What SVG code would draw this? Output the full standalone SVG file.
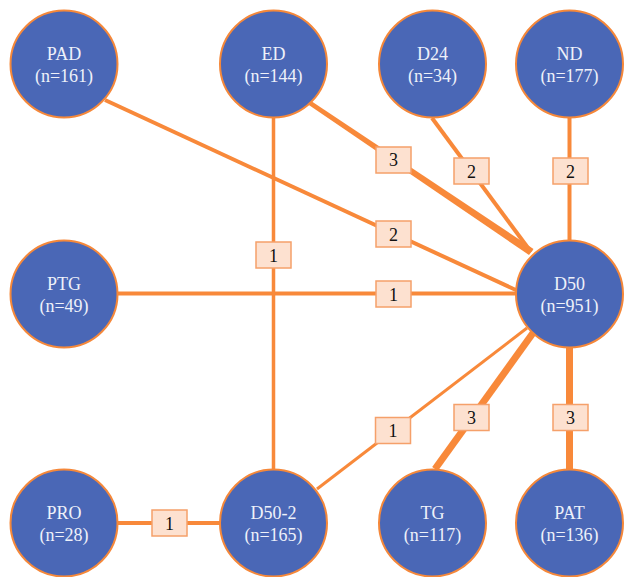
<svg xmlns="http://www.w3.org/2000/svg" width="624" height="577" viewBox="0 0 624 577">
<style>
.n circle{fill:#4A67B6;stroke:#F5883A;stroke-width:2}
.n text{font-family:"Liberation Serif","Times New Roman",serif;font-size:18px;fill:#EEF1FA;text-anchor:middle}
.e line{stroke:#F8893A;fill:none}
.e polygon{fill:#F8893A}
.lb rect{fill:#FDE1D0;stroke:#F5A06A;stroke-width:1.5}
.lb text{font-family:"Liberation Serif","Times New Roman",serif;font-size:18px;fill:#111;text-anchor:middle}
</style>
<rect width="624" height="577" fill="#fff"/>
<g id="connectors" class="e">
<line x1="105" y1="100" x2="518" y2="291" stroke-width="4"/>
<polygon points="308.5,104.7 311.5,101.3 533.5,249 529,255"/>
<line x1="432" y1="118" x2="531" y2="252" stroke-width="4"/>
<line x1="569.5" y1="118" x2="569.5" y2="241" stroke-width="4"/>
<line x1="118" y1="293.5" x2="516" y2="293.5" stroke-width="4"/>
<line x1="273.5" y1="118" x2="273.5" y2="469" stroke-width="3.5"/>
<line x1="527" y1="328" x2="317" y2="489" stroke-width="3"/>
<line x1="533" y1="333" x2="435" y2="469" stroke-width="7"/>
<line x1="569.5" y1="347" x2="569.5" y2="469" stroke-width="7"/>
<line x1="117" y1="523" x2="220" y2="523" stroke-width="4"/>
</g>
<g id="labels" class="lb">
<g id="l-ed-d50"><rect x="376" y="147" width="35" height="26"/><text x="393.5" y="166">3</text></g>
<g id="l-d24-d50"><rect x="454" y="158" width="35" height="26"/><text x="471.5" y="177.5">2</text></g>
<g id="l-nd-d50"><rect x="553" y="158" width="35" height="26"/><text x="570.5" y="177.5">2</text></g>
<g id="l-pad-d50"><rect x="376" y="221" width="35" height="26"/><text x="393.5" y="240.5">2</text></g>
<g id="l-ed-d502"><rect x="256" y="242" width="35" height="26"/><text x="273.5" y="261.5">1</text></g>
<g id="l-ptg-d50"><rect x="376" y="281" width="35" height="26"/><text x="393.5" y="300.5">1</text></g>
<g id="l-d50-d502"><rect x="375.5" y="417.5" width="35" height="26"/><text x="393" y="437">1</text></g>
<g id="l-d50-tg"><rect x="454" y="404.5" width="35" height="26"/><text x="471.5" y="424">3</text></g>
<g id="l-d50-pat"><rect x="553" y="404.5" width="35" height="26"/><text x="570.5" y="424">3</text></g>
<g id="l-pro-d502"><rect x="152" y="510" width="35" height="26"/><text x="169.5" y="529.5">1</text></g>
</g>
<g id="PAD" class="n"><circle cx="64" cy="64" r="53.5"/><text x="64" y="59.5">PAD</text><text x="64" y="81.5">(n=161)</text></g>
<g id="ED" class="n"><circle cx="273.5" cy="64" r="53.5"/><text x="273.5" y="59.5">ED</text><text x="273.5" y="81.5">(n=144)</text></g>
<g id="D24" class="n"><circle cx="432.5" cy="64" r="53.5"/><text x="432.5" y="59.5">D24</text><text x="432.5" y="81.5">(n=34)</text></g>
<g id="ND" class="n"><circle cx="569.5" cy="64" r="53.5"/><text x="569.5" y="59.5">ND</text><text x="569.5" y="81.5">(n=177)</text></g>
<g id="PTG" class="n"><circle cx="64" cy="294" r="53.5"/><text x="64" y="289.5">PTG</text><text x="64" y="311.5">(n=49)</text></g>
<g id="D50" class="n"><circle cx="569.5" cy="294" r="53.5"/><text x="569.5" y="289.5">D50</text><text x="569.5" y="311.5">(n=951)</text></g>
<g id="PRO" class="n"><circle cx="64" cy="523" r="53.5"/><text x="64" y="518.5">PRO</text><text x="64" y="540.5">(n=28)</text></g>
<g id="D50-2" class="n"><circle cx="273.5" cy="523" r="53.5"/><text x="273.5" y="518.5">D50-2</text><text x="273.5" y="540.5">(n=165)</text></g>
<g id="TG" class="n"><circle cx="432.5" cy="523" r="53.5"/><text x="432.5" y="518.5">TG</text><text x="432.5" y="540.5">(n=117)</text></g>
<g id="PAT" class="n"><circle cx="569.5" cy="523" r="53.5"/><text x="569.5" y="518.5">PAT</text><text x="569.5" y="540.5">(n=136)</text></g>
</svg>
